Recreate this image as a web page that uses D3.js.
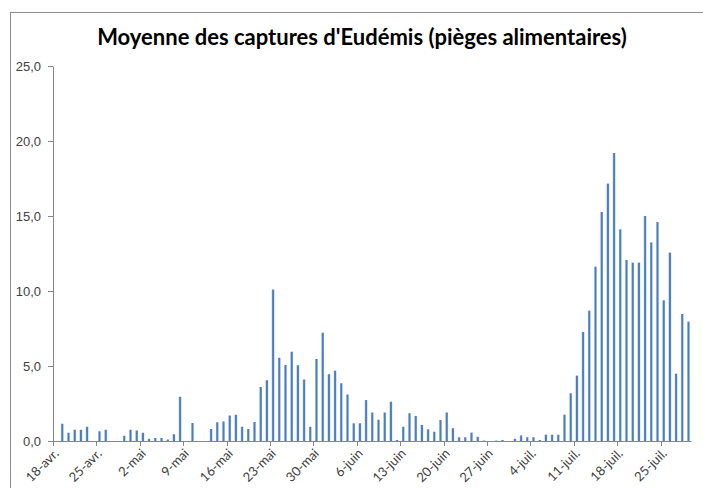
<!DOCTYPE html>
<html>
<head>
<meta charset="utf-8">
<script src="https://cdn.jsdelivr.net/npm/d3@7"></script>
<style>
  body { margin: 0; background: #fff; }
  svg { display: block; font-family: Lato, "Open Sans", sans-serif; }
  .axis-scale path, .axis-scale line { stroke: #868686; }
  .axis-scale text { fill: #404040; font-size: 13px; }
</style>
</head>
<body>
<div id="chart-container"></div>
<script>
// chart title
var TITLE = "Moyenne des captures d'Eudémis (pièges alimentaires)";
// first and last day of the series
var FIRST_DAY = "2011-04-18";
var LAST_DAY = "2011-07-29";
// mean captures per day (null = no value)
var CAPTURES = [
    null, 1.15, 0.55, 0.75, 0.75, 0.95, null, 0.65, 0.75, null,
    null, 0.35, 0.75, 0.7, 0.55, 0.15, 0.2, 0.2, 0.1, 0.45,
    2.95, null, 1.2, null, null, 0.8, 1.25, 1.3, 1.7, 1.75,
    0.95, 0.8, 1.27, 3.6, 4.05, 10.1, 5.55, 5.07, 5.95, 5.05,
    4.1, 0.95, 5.47, 7.22, 4.45, 4.69, 3.85, 3.1, 1.18, 1.18,
    2.73, 1.9, 1.42, 1.9, 2.62, 0.07, 0.95, 1.85, 1.67, 1.07,
    0.78, 0.62, 1.4, 1.9, 0.85, 0.25, 0.25, 0.56, 0.28, 0.03,
    null, 0.03, 0.07, null, 0.15, 0.37, 0.25, 0.25, 0.07, 0.42,
    0.42, 0.42, 1.76, 3.18, 4.36, 7.27, 8.69, 11.62, 15.27, 17.16,
    19.2, 14.11, 12.07, 11.89, 11.89, 15.0, 13.24, 14.6, 9.38, 12.56,
    4.49, 8.47, 7.96
];
// y axis ticks
var Y_TICKS = [0, 5, 10, 15, 20, 25];
// x axis tick labels, one every 7 days
var X_TICK_LABELS = ["18-avr.", "25-avr.", "2-mai", "9-mai", "16-mai", "23-mai", "30-mai",
    "6-juin", "13-juin", "20-juin", "27-juin", "4-juil.", "11-juil.", "18-juil.", "25-juil."];

function drawChart() {
    var W = 703, H = 488;
    var left = 53, right = 691.6, top = 66, bottom = 441;

    var parse = d3.timeParse("%Y-%m-%d");
    var days = d3.timeDay.range(parse(FIRST_DAY), d3.timeDay.offset(parse(LAST_DAY), 1));
    var data = days.map(function (d, i) { return { day: d, value: CAPTURES[i] }; });

    var svg = d3.select("#chart-container")
        .append("svg")
        .attr("width", W)
        .attr("height", H);

    // bar gradient (light edges, darker core)
    var grad = svg.append("defs").append("linearGradient")
        .attr("id", "bar-grad")
        .attr("x1", "0").attr("x2", "1").attr("y1", "0").attr("y2", "0");
    grad.append("stop").attr("offset", "0%").attr("stop-color", "#9dbbe2");
    grad.append("stop").attr("offset", "35%").attr("stop-color", "#4a7ebd");
    grad.append("stop").attr("offset", "70%").attr("stop-color", "#4a7ebd");
    grad.append("stop").attr("offset", "100%").attr("stop-color", "#a9c4e6");

    // chart border
    svg.append("rect")
        .attr("x", 10.5).attr("y", 12.5)
        .attr("width", 710).attr("height", 500)
        .attr("fill", "none")
        .attr("stroke", "#8c8c8c");

    // title
    svg.append("text")
        .attr("x", 362)
        .attr("y", 45)
        .attr("text-anchor", "middle")
        .attr("font-family", "Lato, 'Open Sans', sans-serif")
        .attr("font-weight", "bold")
        .attr("font-size", "22px")
        .attr("fill", "#000")
        .text(TITLE);

    // x scale, one band per day
    var x = d3.scaleBand()
        .domain(days.map(function (d) { return +d; }))
        .range([left, right])
        .padding(0);

    // y scale
    var y = d3.scaleLinear()
        .domain([0, 25])
        .range([bottom, top]);

    var fr = d3.formatLocale({ decimal: ",", thousands: " ", grouping: [3], currency: ["", " €"] });

    // y axis
    svg.append("g")
        .attr("class", "axis-scale")
        .attr("transform", "translate(" + left + ",0)")
        .call(d3.axisLeft(y).tickValues(Y_TICKS).tickFormat(fr.format(".1f")).tickSize(5).tickSizeOuter(0).tickPadding(7));

    // bars
    var bw = 2.7;
    svg.append("g")
        .selectAll("rect")
        .data(data.filter(function (d) { return d.value != null; }))
        .enter()
        .append("rect")
        .attr("x", function (d) { return x(+d.day) + x.bandwidth() / 2 - bw / 2; })
        .attr("y", function (d) { return y(d.value); })
        .attr("width", bw)
        .attr("height", function (d) { return y(0) - y(d.value); })
        .attr("fill", "url(#bar-grad)");

    // x axis: line + weekly ticks at left edge of the labelled day
    var tickDays = days.filter(function (d, i) { return i % 7 === 0; });
    var xAxis = svg.append("g").attr("class", "axis-scale");
    xAxis.append("line")
        .attr("x1", left).attr("x2", right)
        .attr("y1", bottom + 0.5).attr("y2", bottom + 0.5)
        .attr("stroke", "#868686");
    var ticks = xAxis.selectAll("g.tick")
        .data(tickDays)
        .enter()
        .append("g")
        .attr("class", "tick")
        .attr("transform", function (d) { return "translate(" + (Math.round(x(+d)) + 0.5) + "," + bottom + ")"; });
    ticks.append("line")
        .attr("y1", 0).attr("y2", 5)
        .attr("stroke", "#868686");
    ticks.append("text")
        .attr("text-anchor", "end")
        .attr("transform", "translate(3,10) rotate(-45)")
        .attr("dy", "0.35em")
        .text(function (d, i) { return X_TICK_LABELS[i]; });
}

window.onload = drawChart;
</script>
</body>
</html>
